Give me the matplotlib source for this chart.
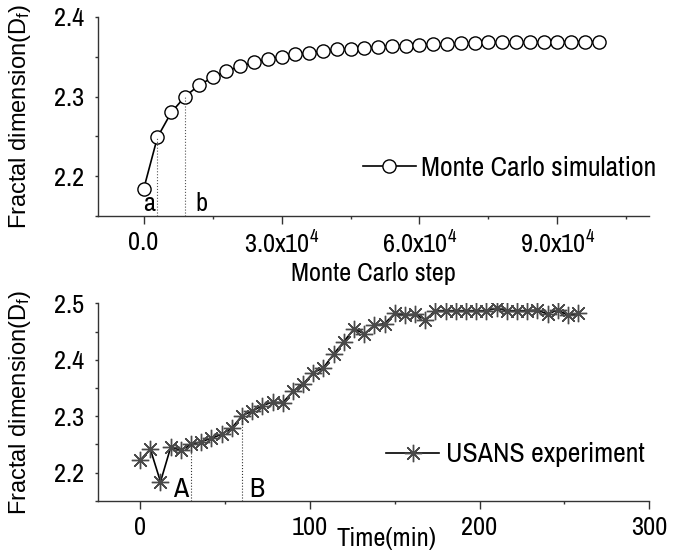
import matplotlib
matplotlib.use('Agg')
import matplotlib.pyplot as plt
import numpy as np
from matplotlib.ticker import MultipleLocator, FuncFormatter

plt.rcParams['font.family'] = ['Archivo Narrow', 'Liberation Sans', 'DejaVu Sans']
plt.rcParams['mathtext.default'] = 'regular'

# Monte Carlo simulation: fractal dimension vs. step
mc_step = np.arange(0, 99001, 3000)
mc_df = [2.184, 2.249, 2.280, 2.300, 2.314, 2.324, 2.332, 2.338, 2.343,
         2.347, 2.350, 2.353, 2.355, 2.357, 2.359, 2.360, 2.361, 2.362,
         2.364, 2.364, 2.365, 2.366, 2.366, 2.367, 2.367, 2.368, 2.368,
         2.368, 2.368, 2.369, 2.369, 2.369, 2.369, 2.369]

# USANS experiment: fractal dimension vs. time (min)
usans_t = np.arange(0, 259, 6)
usans_df = [2.222, 2.242, 2.184, 2.245, 2.240, 2.250, 2.255, 2.261, 2.268,
            2.279, 2.301, 2.309, 2.319, 2.325, 2.324, 2.344, 2.357, 2.377,
            2.386, 2.410, 2.432, 2.455, 2.446, 2.461, 2.464, 2.482, 2.479,
            2.481, 2.471, 2.487, 2.487, 2.487, 2.487, 2.487, 2.487, 2.491,
            2.487, 2.487, 2.487, 2.488, 2.481, 2.488, 2.479, 2.482]

# marked stages
mc_marks = [3000, 9000]
mc_mark_labels = ['a', 'b']
usans_marks = [30, 60]
usans_mark_labels = ['A', 'B']

TICK_FS = 19
LEG_FS = 20
YLAB_FS = 17
YLAB_FONT = ['Liberation Sans', 'DejaVu Sans']


def style_axis(ax):
    for side in ['top', 'right']:
        ax.spines[side].set_visible(False)
    for side in ['left', 'bottom']:
        ax.spines[side].set_linewidth(1.0)
        ax.spines[side].set_color('#333333')
    ax.tick_params(axis='x', which='major', direction='out', length=5.5,
                   width=1, pad=5, labelsize=TICK_FS, color='#333333')
    ax.tick_params(axis='x', which='minor', direction='out', length=2.5,
                   width=1, color='#333333')
    ax.tick_params(axis='y', which='both', direction='out', length=2.5,
                   width=1, pad=7, labelsize=TICK_FS, color='#333333')


def sci_fmt(v, pos):
    if v == 0:
        return '0.0'
    e = int(np.floor(np.log10(abs(v))))
    return '%.1fx10$^{%d}$' % (v / 10 ** e, e)


fig = plt.figure(figsize=(6.87, 5.6), dpi=100)
ax1 = fig.add_axes([0.1422, 0.614, 0.803, 0.356])
ax2 = fig.add_axes([0.1422, 0.1054, 0.803, 0.353])

# top panel
ax1.plot(mc_step, mc_df, color='black', lw=1.2, marker='o', ms=9.5,
         mfc='white', mec='black', mew=1.0,
         label='Monte Carlo simulation')
for xm in mc_marks:
    ym = mc_df[list(mc_step).index(xm)]
    ax1.plot([xm, xm], [2.15, ym], color='#555555', lw=0.8, ls=':')
ax1.text(mc_marks[0] - 600, 2.157, mc_mark_labels[0], ha='right',
         va='baseline', fontsize=TICK_FS)
ax1.text(mc_marks[1] + 2200, 2.157, mc_mark_labels[1], ha='left',
         va='baseline', fontsize=TICK_FS)

ax1.set_xlim(-1e4, 1.1e5)
ax1.set_ylim(2.15, 2.4)
ax1.xaxis.set_major_locator(MultipleLocator(3e4))
ax1.xaxis.set_minor_locator(MultipleLocator(1.5e4))
ax1.xaxis.set_major_formatter(FuncFormatter(sci_fmt))
ax1.yaxis.set_major_locator(MultipleLocator(0.1))
ax1.yaxis.set_minor_locator(MultipleLocator(0.05))
ax1.yaxis.set_major_formatter(FuncFormatter(lambda v, p: '%.1f' % v))
style_axis(ax1)
ax1.set_xlabel('Monte Carlo step', fontsize=TICK_FS)
ax1.xaxis.set_label_coords(0.5, -0.232)
ax1.set_ylabel('Fractal dimension(D$_f$)', fontsize=YLAB_FS, family=YLAB_FONT)
ax1.yaxis.set_label_coords(-0.117, 0.5)
ax1.legend(loc='center left', bbox_to_anchor=(0.481, 0.241), frameon=False,
           fontsize=LEG_FS, handlelength=1.9, handletextpad=0.2,
           borderpad=0, borderaxespad=0)

# bottom panel
ax2.plot(usans_t, usans_df, color='black', lw=1.2, marker=(8, 2, 0), ms=12.5,
         mec='#4a4a4a', mew=1.0, label='USANS experiment')
for xm in usans_marks:
    ym = usans_df[list(usans_t).index(xm)]
    ax2.plot([xm, xm], [2.15, ym], color='#333333', lw=0.8, ls=':')
ax2.text(usans_marks[0] - 1.5, 2.157, usans_mark_labels[0], ha='right',
         va='baseline', fontsize=LEG_FS)
ax2.text(usans_marks[1] + 4, 2.157, usans_mark_labels[1], ha='left',
         va='baseline', fontsize=LEG_FS)

ax2.set_xlim(-25, 300)
ax2.set_ylim(2.15, 2.5)
ax2.xaxis.set_major_locator(MultipleLocator(100))
ax2.xaxis.set_minor_locator(MultipleLocator(50))
ax2.yaxis.set_major_locator(MultipleLocator(0.1))
ax2.yaxis.set_minor_locator(MultipleLocator(0.05))
ax2.yaxis.set_major_formatter(FuncFormatter(lambda v, p: '%.1f' % v))
style_axis(ax2)
ax2.set_xlabel('Time(min)', fontsize=TICK_FS)
ax2.xaxis.set_label_coords(0.524, -0.132)
ax2.set_ylabel('Fractal dimension(D$_f$)', fontsize=YLAB_FS, family=YLAB_FONT)
ax2.yaxis.set_label_coords(-0.117, 0.5)
ax2.legend(loc='center left', bbox_to_anchor=(0.523, 0.233), frameon=False,
           fontsize=LEG_FS, handlelength=1.9, handletextpad=0.25,
           borderpad=0, borderaxespad=0)

fig.savefig('out.png', dpi=100)
